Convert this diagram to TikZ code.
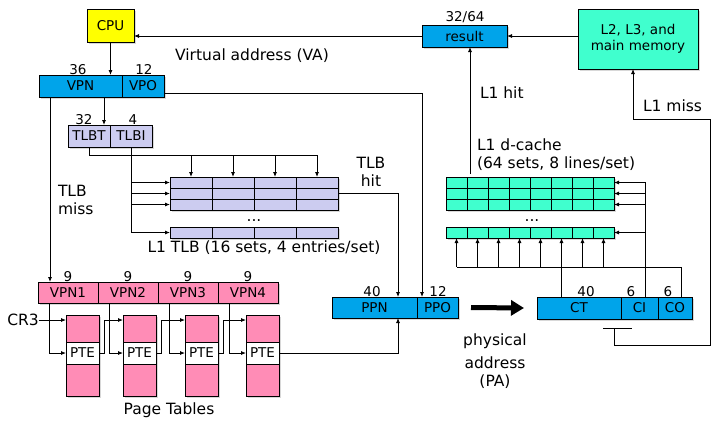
\documentclass[tikz,border=0pt]{standalone}
\usepackage{fontspec}
\setmainfont{DejaVu Sans}
\usetikzlibrary{positioning,arrows.meta,shadows}

\definecolor{cpuyellow}{RGB}{255,255,0}
\definecolor{addrblue}{RGB}{0,164,234}
\definecolor{tlbpurple}{RGB}{204,204,240}
\definecolor{ptpink}{RGB}{255,140,182}
\definecolor{cacheteal}{RGB}{64,255,206}

\newcommand{\boxfont}{\fontsize{13.5}{16}\selectfont}
\newcommand{\labfont}{\fontsize{15.5}{18}\selectfont}

\begin{document}
\begin{tikzpicture}[x=1pt,y=-1pt,every node/.style={inner sep=0,outer sep=0},>={Latex[length=5pt,width=4pt]},wire/.style={draw=black,line width=0.8pt},field/.style={draw=black,line width=0.9pt,anchor=north west,font=\boxfont,minimum height=22pt,drop shadow={shadow xshift=2pt,shadow yshift=-2pt,opacity=0.3}},bits/.style={anchor=south,font=\boxfont,inner sep=0.5pt},lab/.style={font=\labfont},tlbcell/.style={field,fill=tlbpurple,minimum width=42pt,minimum height=11pt},cachecell/.style={field,fill=cacheteal,minimum width=21pt,minimum height=11pt},ptcell/.style={field,fill=ptpink,minimum width=33pt}]

\path[use as bounding box,fill=white] (0,0) rectangle (722,429);

\node[field,fill=cpuyellow,minimum width=47pt,minimum height=33pt] (cpu) at (87,9) {CPU};
\node[field,fill=addrblue,minimum width=83pt] (vpn) at (39,75) {VPN};
\node[field,fill=addrblue,minimum width=42pt] (vpo) at (122,75) {VPO};
\node[bits] (n36) at (78,75) {36};
\node[bits] (n12) at (144,75) {12};
\node[lab] (va) at (252,56) {Virtual address (VA)};

\node[field,fill=tlbpurple,minimum width=42pt] (tlbt) at (68,125) {TLBT};
\node[field,fill=tlbpurple,minimum width=42pt] (tlbi) at (110,125) {TLBI};
\node[bits] (n32) at (84,125) {32};
\node[bits] (n4) at (133,125) {4};

\foreach \r in {0,1,2}
  \foreach \c in {0,...,3}
    \node[tlbcell] (t\r\c) at ({170+42*\c},{177+11*\r}) {};
\foreach \c in {0,...,3}
  \node[tlbcell] (tu\c) at ({170+42*\c},227) {};
\node[lab,anchor=base] (tlbdots) at (254,221) {...};
\node[lab] (tlbname) at (264,248) {L1 TLB (16 sets, 4 entries/set)};
\node[lab,align=left,anchor=west] (tlbmiss) at (58,200) {TLB\\miss};
\node[lab,align=center] (tlbhit) at (371,172) {TLB\\hit};

\foreach \i in {1,...,4} {
  \node[field,fill=ptpink,minimum width=60pt,minimum height=21pt] (vp\i) at ({38+60*(\i-1)},282) {VPN\i};
  \node[bits] (nine\i) at (vp\i.north) {9};
}
\foreach \i/\x in {1/66,2/123,3/185,4/246} {
  \node[ptcell,minimum height=27pt] (pt\i) at (\x,315) {};
  \node[ptcell,fill=white,minimum height=22pt] (pte\i) at (\x,342) {PTE};
  \node[ptcell,minimum height=32pt] (pb\i) at (\x,364) {};
}
\node[lab] (cr3) at (23,320) {CR3};
\node[lab] (ptname) at (169,410) {Page Tables};

\node[field,fill=addrblue,minimum width=85pt,minimum height=21pt] (ppn) at (332,297) {PPN};
\node[field,fill=addrblue,minimum width=41pt,minimum height=21pt] (ppo) at (417,297) {PPO};
\node[bits] (n40a) at (372,297) {40};
\node[bits] (n12b) at (438,297) {12};
\node[lab,align=center] (pa) at (495,361) {physical\\[5pt]address\\(PA)};

\node[field,fill=addrblue,minimum width=84pt] (ct) at (537,297) {CT};
\node[field,fill=addrblue,minimum width=37pt] (ci) at (621,297) {CI};
\node[field,fill=addrblue,minimum width=34pt] (co) at (658,297) {CO};
\node[bits] (n40b) at (586,297) {40};
\node[bits] (n6a) at (631,297) {6};
\node[bits] (n6b) at (668,297) {6};

\foreach \r in {0,1,2}
  \foreach \c in {0,...,7}
    \node[cachecell] (c\r\c) at ({446+21*\c},{177+11*\r}) {};
\foreach \c in {0,...,7}
  \node[cachecell] (cu\c) at ({446+21*\c},227) {};
\node[lab,anchor=base] (cachedots) at (532,221) {...};
\node[lab,align=left,anchor=west] (cachename) at (477,155) {L1 d-cache\\(64 sets, 8 lines/set)};

\node[field,fill=addrblue,minimum width=85pt] (res) at (422,25) {result};
\node[bits,inner sep=2pt] (n3264) at (465,25) {32/64};
\node[field,fill=cacheteal,minimum width=120pt,minimum height=60pt,align=center] (mem) at (578,9) {L2, L3, and\\main memory};
\node[lab,anchor=west] (l1hit) at (480,93) {L1 hit};
\node[lab,anchor=west] (l1miss) at (643,106) {L1 miss};

\draw[wire,->] (cpu.south) -- (cpu.south |- vpn.north);
\draw[wire,->] (res.west) -- (res.west -| cpu.east);
\draw[wire,->] (mem.west |- res.east) -- (res.east);

\coordinate (vaout) at (164,93);
\draw[wire,->] (vaout) -| ([xshift=5pt]ppo.north west);
\coordinate (vpntap) at (104,97);
\draw[wire,->] (vpntap) -- (vpntap |- tlbt.north);
\coordinate (misstap) at (50,97);
\draw[wire,->] (misstap) -- (misstap |- vp1.north);

\coordinate (tagbus) at (92,155);
\draw[wire] (tlbt.south) -- (tlbt.south |- tagbus) -- (tagbus -| t03.north);
\foreach \c in {0,...,3}
  \draw[wire,->] (tagbus -| t0\c.north) -- (t0\c.north);
\draw[wire,->] (tlbi.south) |- (tu0.west);
\foreach \r in {0,1,2}
  \draw[wire,->] (tlbi.south |- t\r0.west) -- (t\r0.west);

\coordinate (hitdrop) at (398,270);
\draw[wire,->] (t13.east) -| (hitdrop |- ppn.north);
\draw[wire,->] (pte4.east) -| (hitdrop |- ppn.south);

\draw[wire,->] (cr3.east) -- (cr3.east -| pt1.west);
\foreach \i in {1,...,4}
  \draw[wire,->] ([xshift=11pt]vp\i.south west) |- (pte\i.west);
\foreach \i/\j in {1/2,2/3,3/4}
  \draw[wire,->] (pte\i.east) -- ++(5,0) |- ([yshift=-5pt]pt\j.north west);

\draw[line width=5pt,-{Triangle[length=13pt,width=15pt]}] ([xshift=13pt]ppo.east) -- ([xshift=-13pt]ct.west);

\draw[wire,->] (cu5.south |- ct.north) -- (cu5.south);
\coordinate (cobus) at (681,267);
\draw[wire] (cobus |- co.north) -- (cobus) -- (cobus -| cu0.south);
\foreach \c in {0,1,2,3,4,6,7}
  \draw[wire,->] (cobus -| cu\c.south) -- (cu\c.south);
\coordinate (citap) at (645,297);
\draw[wire,->] (citap) |- (c07.east);
\foreach \r in {1,2}
  \draw[wire,->] (citap |- c\r7.east) -- (c\r7.east);
\draw[wire,->] (citap |- cu7.east) -- (cu7.east);

\coordinate (hittap) at (470,174);
\draw[wire,->] (hittap) -- (hittap |- res.south);

\coordinate (tickl) at (603,328);
\coordinate (tickr) at (632,328);
\coordinate (missa) at (614,328);
\coordinate (missb) at (710,345);
\coordinate (missc) at (633,119);
\draw[wire] (tickl) -- (tickr);
\draw[wire,->] (missa) |- (missb) |- (missc) -- (missc |- mem.south);

\end{tikzpicture}
\end{document}
